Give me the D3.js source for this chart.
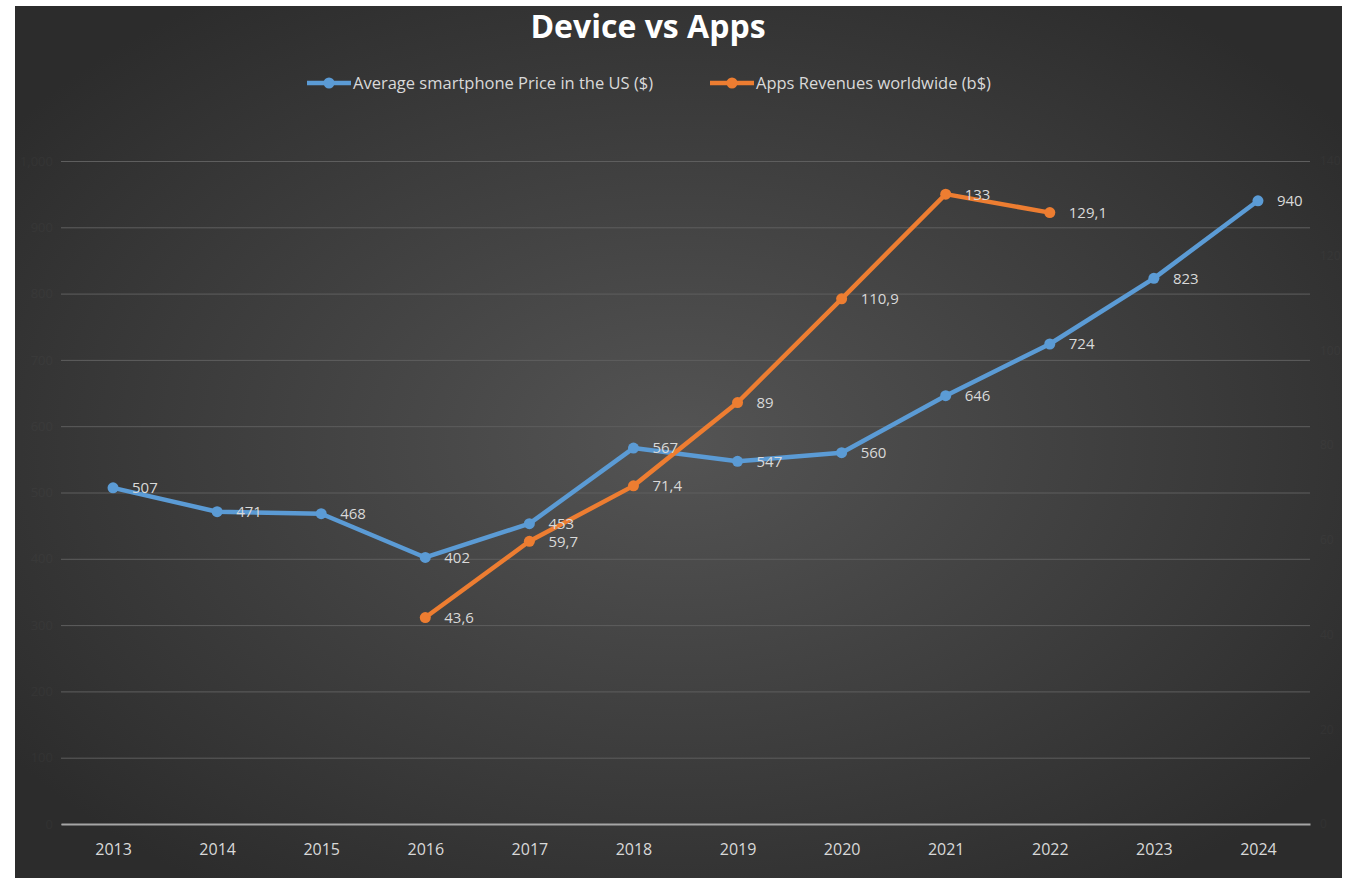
<!DOCTYPE html>
<html><head><meta charset="utf-8">
<script src="https://cdn.jsdelivr.net/npm/d3@7"></script>
<style>
html,body{margin:0;padding:0;background:#fff;}
svg{display:block;}
</style></head>
<body>
<script>
const years = ["2013","2014","2015","2016","2017","2018","2019","2020","2021","2022","2023","2024"];
const priceValues = [507,471,468,402,453,567,547,560,646,724,823,940];
const priceLabels = ["507","471","468","402","453","567","547","560","646","724","823","940"];
const appYears = ["2016","2017","2018","2019","2020","2021","2022"];
const appValues = [43.6,59.7,71.4,89,110.9,133,129.1];
const appLabels = ["43,6","59,7","71,4","89","110,9","133","129,1"];
const leftTicks = [0,100,200,300,400,500,600,700,800,900,1000];
const rightTicks = [0,20,40,60,80,100,120,140];
const seriesNames = ["Average smartphone Price in the US ($)","Apps Revenues worldwide (b$)"];
const colors = ["#5B9BD5","#ED7D31"];

const W=1350,H=878;
const svg=d3.select("body").append("svg").attr("width",W).attr("height",H);
const defs=svg.append("defs");
const rg=defs.append("radialGradient").attr("id","bg").attr("cx","50%").attr("cy","50%").attr("r","62%");
rg.append("stop").attr("offset","0%").attr("stop-color","#545454");
rg.append("stop").attr("offset","100%").attr("stop-color","#2c2c2c");
const frame={x:15,y:6,w:1327,h:872};
svg.append("rect").attr("x",frame.x).attr("y",frame.y).attr("width",frame.w).attr("height",frame.h).attr("fill","url(#bg)");

const plot={l:61,r:1310,t:161,b:824};
const x=d3.scalePoint().domain(years).range([plot.l,plot.r]).padding(0.5);
const yL=d3.scaleLinear().domain([0,1000]).range([plot.b,plot.t]);
const yR=d3.scaleLinear().domain([0,140]).range([plot.b,plot.t]);

const font="'Open Sans', 'Noto Sans', sans-serif";
// gridlines
const gAxisL=svg.append("g").attr("transform",`translate(${plot.l},0)`)
  .call(d3.axisLeft(yL).tickValues(leftTicks).tickSize(-(plot.r-plot.l)).tickPadding(8));
gAxisL.select(".domain").remove();
gAxisL.selectAll(".tick line").attr("stroke","#5e5e5e").attr("stroke-width",1);
gAxisL.selectAll(".tick text").attr("fill","#ffffff").attr("opacity",0.025).attr("font-family",font).attr("font-size",13);
const gAxisR=svg.append("g").attr("transform",`translate(${plot.r},0)`)
  .call(d3.axisRight(yR).tickValues(rightTicks).tickSize(0).tickPadding(10));
gAxisR.select(".domain").remove();
gAxisR.selectAll(".tick text").attr("fill","#ffffff").attr("opacity",0.025).attr("font-family",font).attr("font-size",12);

// x axis
const gx=svg.append("g").attr("transform",`translate(0,${plot.b})`)
  .call(d3.axisBottom(x).tickSize(0).tickPadding(20));
gx.select(".domain").attr("stroke","#a6a6a6").attr("stroke-width",2.2);
gx.selectAll(".tick text").attr("fill","#d9d9d9").attr("font-family",font).attr("font-size",16);

// series
function drawSeries(cats,vals,labels,ys,color){
  const pts=cats.map((c,i)=>({c,v:vals[i],l:labels[i]}));
  const line=d3.line().x(d=>x(d.c)).y(d=>ys(d.v));
  svg.append("path").datum(pts).attr("d",line).attr("fill","none").attr("stroke",color)
    .attr("stroke-width",4.5).attr("stroke-linejoin","round").attr("stroke-linecap","round");
  svg.append("g").selectAll("circle").data(pts).join("circle")
    .attr("cx",d=>x(d.c)).attr("cy",d=>ys(d.v)).attr("r",5.5).attr("fill",color);
  return pts;
}
const p1=drawSeries(years,priceValues,priceLabels,yL,colors[0]);
const p2=drawSeries(appYears,appValues,appLabels,yR,colors[1]);
function drawLabels(pts,ys){
  svg.append("g").selectAll("text").data(pts).join("text")
    .attr("x",d=>x(d.c)+19).attr("y",d=>ys(d.v)).attr("dy","0.36em")
    .attr("fill","#d9d9d9").attr("font-family",font).attr("font-size",15).text(d=>d.l);
}
drawLabels(p1,yL);
drawLabels(p2,yR);

// title
svg.append("text").attr("x",648).attr("y",38).attr("text-anchor","middle")
  .attr("fill","#ffffff").attr("font-family",font).attr("font-weight","bold").attr("font-size",32)
  .text("Device vs Apps");

// legend
const legendX=[307,710];
seriesNames.forEach((n,i)=>{
  const g=svg.append("g").attr("transform",`translate(${legendX[i]},83)`);
  g.append("line").attr("x1",0).attr("x2",44).attr("y1",0).attr("y2",0).attr("stroke",colors[i]).attr("stroke-width",4.5);
  g.append("circle").attr("cx",22).attr("cy",0).attr("r",5.5).attr("fill",colors[i]);
  g.append("text").attr("x",46).attr("y",0).attr("dy","0.36em").attr("fill","#d9d9d9")
    .attr("font-family",font).attr("font-size",16.5).text(n);
});
</script>
</body></html>
